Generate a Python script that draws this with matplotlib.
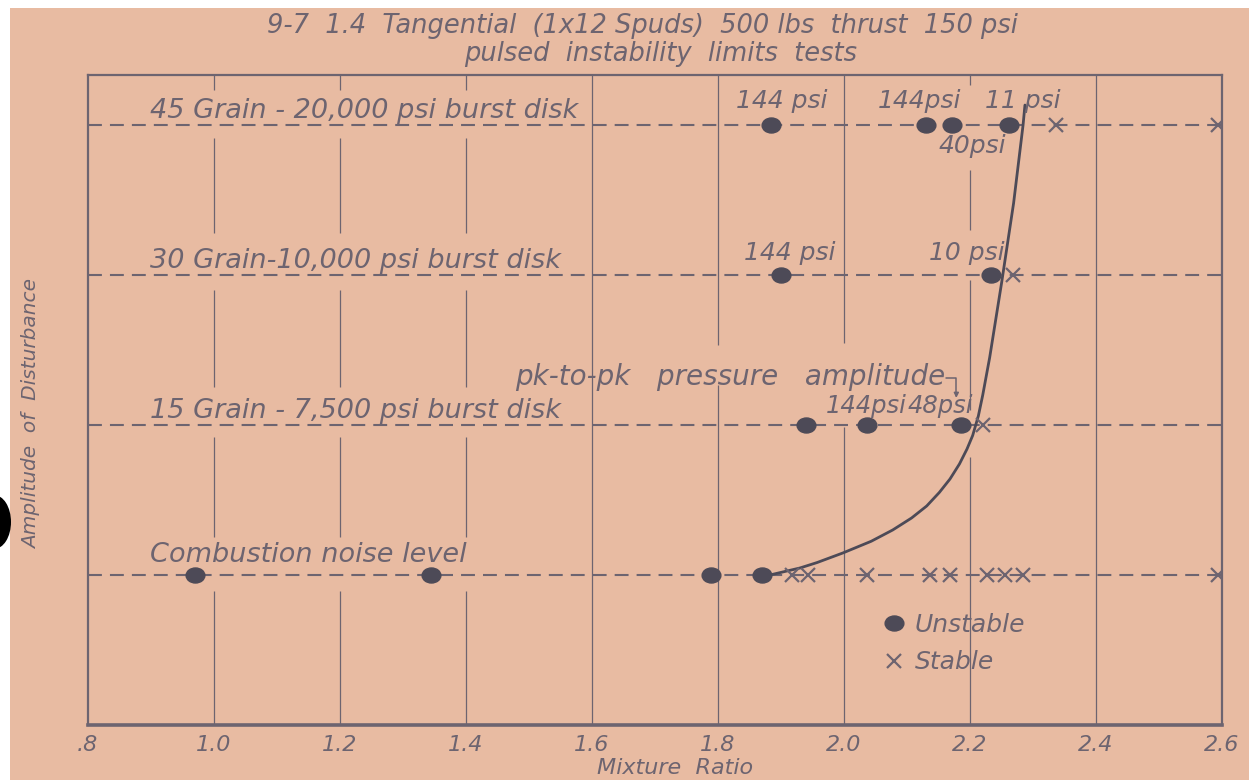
import matplotlib
matplotlib.use("Agg")
import matplotlib.pyplot as plt
from matplotlib.path import Path
from matplotlib.transforms import Affine2D
from matplotlib.patches import Rectangle, Ellipse
from matplotlib.lines import Line2D

plt.rcParams["font.family"] = ["DejaVu Sans"]
plt.rcParams["lines.scale_dashes"] = False

# ---- data -------------------------------------------------------------
# disturbance levels (rows), bottom to top
levels = [0, 1, 2, 3]
level_names = [
    "Combustion noise level",
    "15 Grain - 7,500 psi burst disk",
    "30 Grain-10,000 psi burst disk",
    "45 Grain - 20,000 psi burst disk",
]

# mixture ratios of unstable / stable runs at each level
unstable_noise = [0.97, 1.345, 1.79, 1.87]
stable_noise = [1.918, 1.944, 2.037, 2.137, 2.169, 2.228, 2.256, 2.285, 2.595]
unstable_15 = [1.94, 2.037, 2.186]
stable_15 = [2.221]
unstable_30 = [1.90, 2.234]
stable_30 = [2.269]
unstable_45 = [1.885, 2.131, 2.172, 2.263]
stable_45 = [2.337, 2.595]

unstable_by_level = [unstable_noise, unstable_15, unstable_30, unstable_45]
stable_by_level = [stable_noise, stable_15, stable_30, stable_45]

# hand-faired stability limit
limit_mr = [1.883, 1.931, 1.958, 1.999, 2.044, 2.078, 2.108, 2.132, 2.152,
            2.169, 2.184, 2.196, 2.205, 2.214, 2.221, 2.232, 2.251, 2.270,
            2.285, 2.288]
limit_amp = [0.0, 0.047, 0.083, 0.147, 0.225, 0.30, 0.38, 0.46, 0.55,
             0.64, 0.74, 0.84, 0.93, 1.06, 1.20, 1.45, 1.95, 2.48,
             3.0, 3.133]

# peak-to-peak pressure amplitude notes: (mixture ratio, level, text)
pressure_notes = [
    (1.902, 3, "144 psi"),
    (2.121, 3, "144psi"),
    (2.285, 3, "11 psi"),
    (1.915, 2, "144 psi"),
    (2.195, 2, "10 psi"),
]
note_below = (2.205, 3, "40psi")
note_pair_15 = (2.101, 1, "144psi", "48psi")
pk_caption = "pk-to-pk   pressure   amplitude"

x_ticks = [0.8, 1.0, 1.2, 1.4, 1.6, 1.8, 2.0, 2.2, 2.4, 2.6]
x_tick_labels = [".8", "1.0", "1.2", "1.4", "1.6", "1.8", "2.0", "2.2", "2.4", "2.6"]

title_1 = "9-7  1.4  Tangential  (1x12 Spuds)  500 lbs  thrust  150 psi"
title_2 = "pulsed  instability  limits  tests"

# ---- style -------------------------------------------------------------
paper = "#e8bba2"
ink = "#6d6470"
dark = "#4d4a57"
lettering = dict(style="italic", color=ink)

W, H = 1249, 780
fig = plt.figure(figsize=(W / 100, H / 100), dpi=100, facecolor="white")
fig.patches.append(Rectangle((10 / W, 0), 1, 1 - 8 / H, transform=fig.transFigure,
                             facecolor=paper, edgecolor="none", zorder=-10))
fig.patches.append(Ellipse((-6 / W, 1 - 522 / H), 34 / W, 54 / H,
                           transform=fig.transFigure, facecolor="black",
                           edgecolor="none", zorder=5))

ax = fig.add_axes([87.6 / W, 55 / H, (1221.5 - 87.6) / W, 650 / H])
ax.set_facecolor("none")
ax.set_xlim(0.8, 2.6)
ax.set_ylim(-1.0, 3.3333)

for side in ["left", "right", "top"]:
    ax.spines[side].set_color(ink)
    ax.spines[side].set_linewidth(1.6)
ax.spines["bottom"].set_color(ink)
ax.spines["bottom"].set_linewidth(2.6)

ax.set_yticks([])
ax.set_xticks(x_ticks)
ax.set_xticklabels(x_tick_labels, fontsize=16, **lettering)
ax.tick_params(axis="x", length=0, pad=7)
ax.set_xlabel("Mixture  Ratio", fontsize=16, **lettering)
ax.xaxis.set_label_coords(0.518, -0.05)
ax.set_ylabel("Amplitude  of  Disturbance", fontsize=14.5, **lettering)
ax.yaxis.set_label_coords(-0.041, 0.478)

# vertical rulings, broken where the hand lettering sits
row_gaps = {3: (2.913, 3.233), 2: (1.90, 2.28), 1: (0.92, 1.25), 0: (-0.11, 0.25)}
grid_gaps = {
    1.0: [row_gaps[3], row_gaps[2], row_gaps[1], row_gaps[0]],
    1.2: [row_gaps[3], row_gaps[2], row_gaps[1], row_gaps[0]],
    1.4: [row_gaps[3], row_gaps[2], row_gaps[1], row_gaps[0]],
    1.6: [],
    1.8: [(1.267, 1.533)],
    2.0: [(0.987, 1.547)],
    2.2: [(2.70, 3.267), (1.967, 2.30), (0.787, 1.10)],
    2.4: [],
}
y_lo, y_hi = ax.get_ylim()
for gx, gaps in grid_gaps.items():
    edges = [y_lo]
    for a, b in sorted(gaps):
        edges += [a, b]
    edges.append(y_hi)
    for i in range(0, len(edges), 2):
        ax.vlines(gx, edges[i], edges[i + 1], color=ink, lw=0.9, zorder=1)

# dashed level lines
for lv in levels:
    ax.axhline(lv, color=ink, lw=1.5, dashes=(10, 5.8), zorder=2)

# level names
name_baseline = [0.087, 1.047, 2.047, 3.047]
for lv, name, yb in zip(levels, level_names, name_baseline):
    ax.text(0.899, yb, name, fontsize=19.5, ha="left", va="baseline",
            zorder=3, **lettering)

# test points
oval = Path.unit_circle().transformed(Affine2D().scale(1.0, 0.8))
for lv, ux, sx in zip(levels, unstable_by_level, stable_by_level):
    ax.plot(ux, [lv] * len(ux), linestyle="none", marker=oval, ms=13.5,
            color=dark, mec=dark, zorder=4)
    ax.plot(sx, [lv] * len(sx), linestyle="none", marker="x", ms=10,
            mew=1.6, color=ink, zorder=4)

# stability limit curve
ax.plot(limit_mr, limit_amp, color=dark, lw=2.0, zorder=3,
        solid_capstyle="round", solid_joinstyle="round")

# pressure amplitude notes
for mr, lv, txt in pressure_notes:
    off = 0.113 if lv == 3 else 0.10
    ax.text(mr, lv + off, txt, fontsize=18, ha="center", va="baseline",
            zorder=3, **lettering)
ax.text(note_below[0], note_below[1] - 0.187, note_below[2], fontsize=18,
        ha="center", va="baseline", zorder=3, **lettering)
mr15, lv15, left15, right15 = note_pair_15
ax.text(mr15, lv15 + 0.08, left15, fontsize=17.5, ha="right", va="baseline",
        zorder=3, **lettering)
ax.text(mr15, lv15 + 0.08, right15, fontsize=17.5, ha="left", va="baseline",
        zorder=3, **lettering)

pk = ax.text(1.479, 1.267, pk_caption, fontsize=20, ha="left", va="baseline",
             zorder=3, **lettering)
# small bent pointer hanging off the end of the caption
ax.annotate("", xy=(1.025, -0.25), xycoords=pk, xytext=(1.0, 0.45),
            textcoords=pk,
            arrowprops=dict(arrowstyle="-|>", lw=1.1, color=ink,
                            mutation_scale=7, shrinkA=0, shrinkB=0,
                            connectionstyle="angle,angleA=0,angleB=90,rad=0"))

# legend
handles = [
    Line2D([], [], linestyle="none", marker=oval, ms=13.5, color=dark),
    Line2D([], [], linestyle="none", marker="x", ms=10, mew=1.6, color=ink),
]
leg = ax.legend(handles, ["Unstable", "Stable"], loc="upper left",
                bbox_to_anchor=(0.691, 0.192), frameon=False,
                handlelength=0.8, handletextpad=0.45, labelspacing=0.55,
                borderpad=0, prop=dict(size=18, style="italic"))
for t in leg.get_texts():
    t.set_color(ink)

# title
fig.text(642 / W, 1 - 33 / H, title_1, fontsize=18.5, ha="center",
         va="baseline", **lettering)
fig.text(661 / W, 1 - 61 / H, title_2, fontsize=18.5, ha="center",
         va="baseline", **lettering)

fig.savefig("out.png", dpi=100, facecolor="white")
